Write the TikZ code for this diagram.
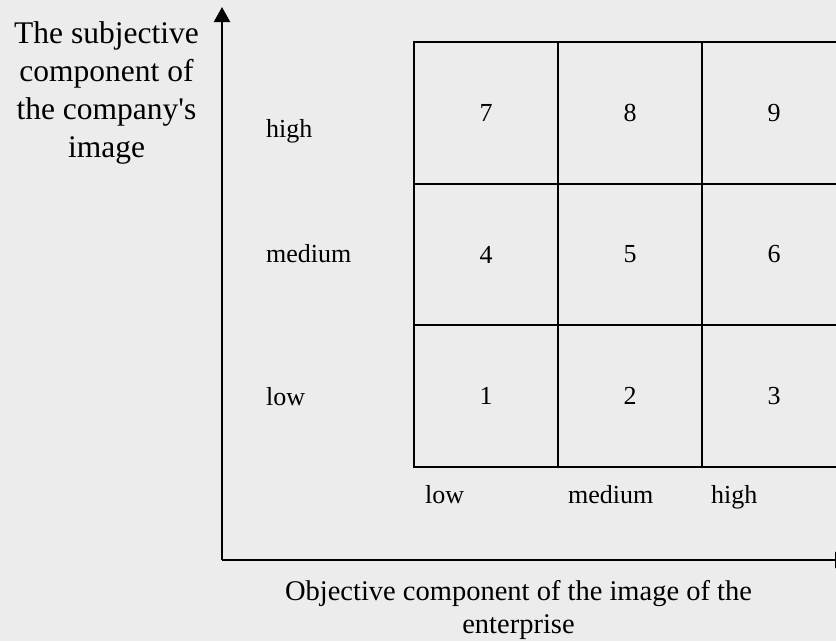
\documentclass[tikz,border=0pt]{standalone}
\usepackage{fontspec}
\setmainfont{Liberation Serif}[Ligatures=TeXOff]
\usetikzlibrary{arrows.meta}
\definecolor{bgc}{RGB}{236,236,236}
\tikzset{
  cell/.style={draw=black, line width=2pt, minimum width=144pt, minimum height=141.67pt, inner sep=0pt, font=\fontsize{26}{30}\selectfont},
  lab/.style={anchor=base west, inner sep=0pt, font=\fontsize{26}{30}\selectfont},
  axis/.style={line width=2.2pt, -{Triangle[width=16pt,length=15pt]}},
  ttl/.style={align=center, inner sep=0pt, anchor=base}
}
\begin{document}
\begin{tikzpicture}[x=1pt,y=-1pt]
\useasboundingbox (0,0) rectangle (836,641);
\fill[bgc] (0,0) rectangle (836,641);
\clip (0,0) rectangle (836,641);
% grid cells
\node[cell] (c7) at (486,112.83) {7};
\node[cell] (c8) at (630,112.83) {8};
\node[cell] (c9) at (774,112.83) {9};
\node[cell] (c4) at (486,254.5) {4};
\node[cell] (c5) at (630,254.5) {5};
\node[cell] (c6) at (774,254.5) {6};
\node[cell] (c1) at (486,396.17) {1};
\node[cell] (c2) at (630,396.17) {2};
\node[cell] (c3) at (774,396.17) {3};
% axes
\coordinate (o) at (222,560);
\coordinate (ytip) at (222,7);
\coordinate (xtip) at (850,560);
\draw[axis] (o) -- (ytip);
\draw[axis] (o) -- (xtip);
% row labels
\node[lab] (rhigh) at (266,137) {high};
\node[lab] (rmed) at (266,262) {medium};
\node[lab] (rlow) at (266,405) {low};
% column labels
\node[lab] (clow) at (425,503) {low};
\node[lab] (cmed) at (568,503) {medium};
\node[lab] (chigh) at (711,503) {high};
% axis titles (base anchor = last line's baseline)
\node[ttl, font=\fontsize{31.5}{38}\selectfont] (ytitle) at (106.5,157) {The subjective\\component of\\the company's\\image};
\node[ttl, font=\fontsize{28.5}{33}\selectfont] (xtitle) at (518.5,633) {Objective component of the image of the\\enterprise};
\end{tikzpicture}
\end{document}
